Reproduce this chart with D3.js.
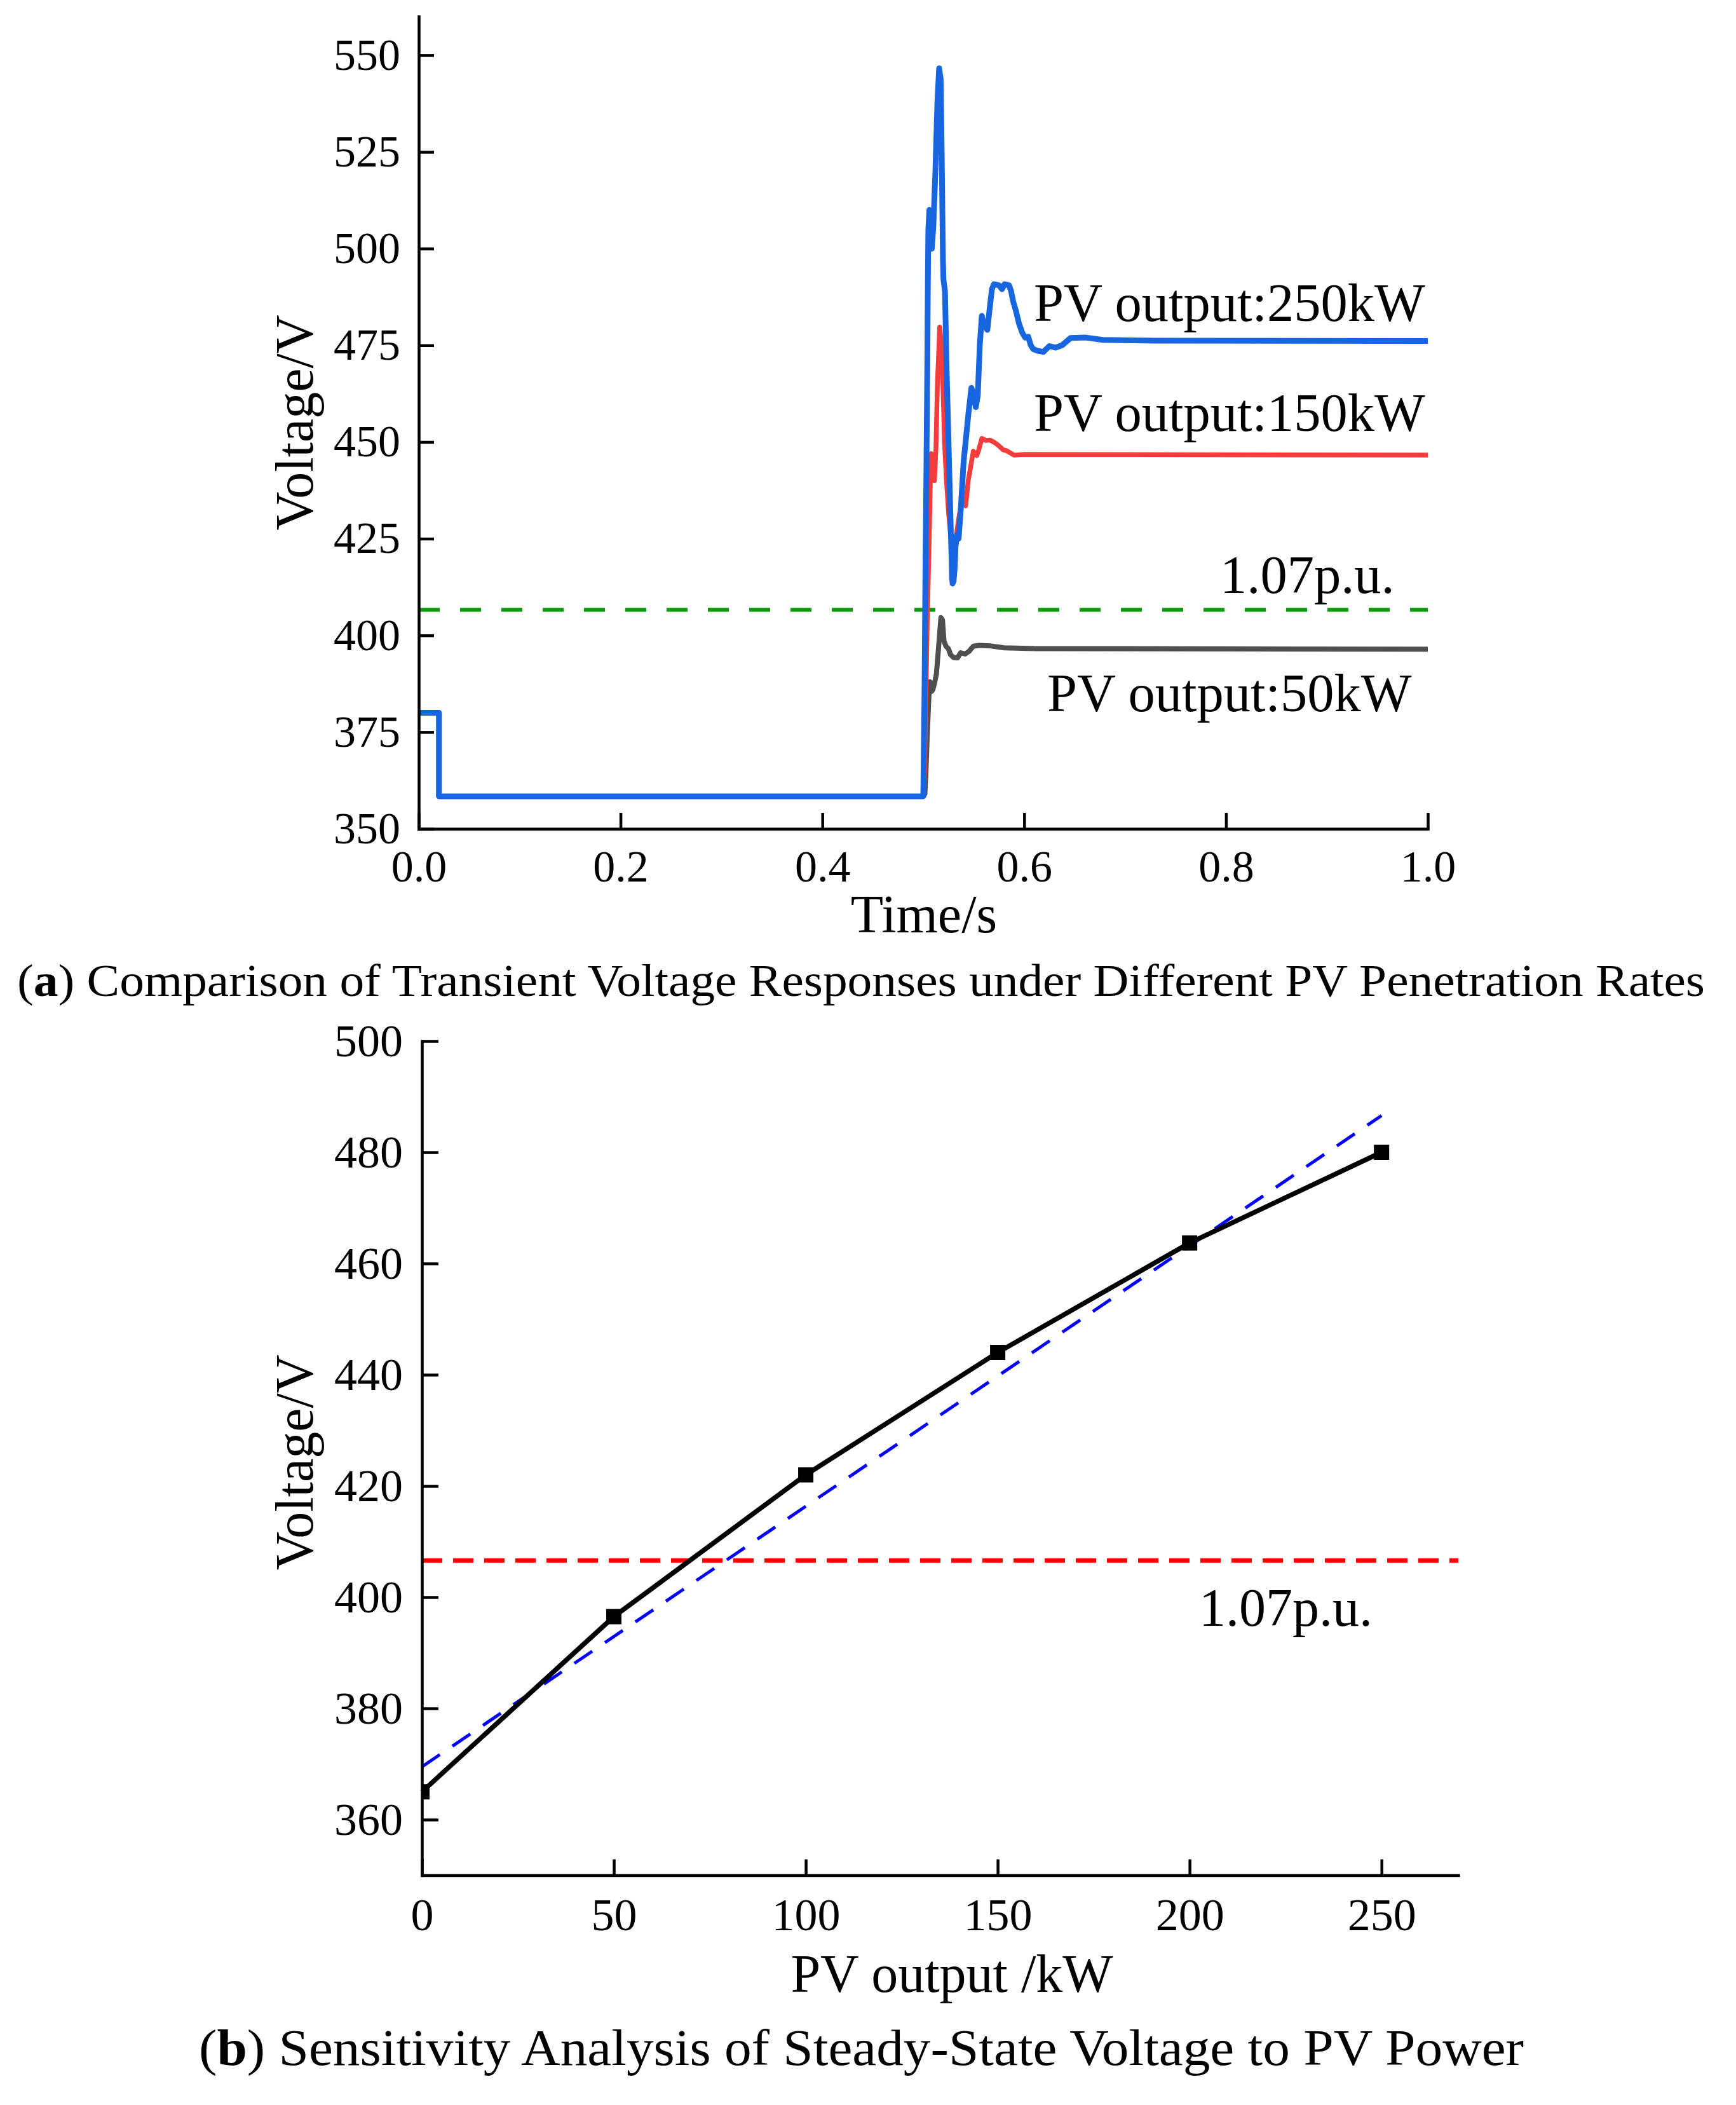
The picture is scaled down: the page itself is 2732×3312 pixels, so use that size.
<!DOCTYPE html>
<html>
<head>
<meta charset="utf-8">
<script src="https://cdn.jsdelivr.net/npm/d3@7"></script>
<style>
	body { margin: 0; background: #fff; }
	svg { display: block; }
	text { font-family: "Liberation Serif", "Times New Roman", serif; fill: #000; }
</style>
</head>
<body>
<div class="container"></div>
<script>
"use strict";

// (a) transient voltage, [time s, voltage V]
const pv250 = [
	[0, 380], [0.02, 380], [0.02, 358.4], [0.5, 358.4], [0.5012, 385], [0.502, 412], [0.503, 440],
	[0.504, 470], [0.5045, 490], [0.505, 505], [0.506, 510], [0.507, 509], [0.5085, 500], [0.51, 506],
	[0.512, 520], [0.514, 538], [0.5157, 546.6], [0.5172, 544], [0.518, 530], [0.519, 508], [0.5195, 497],
	[0.52, 492], [0.5215, 489], [0.523, 470], [0.525, 450], [0.527, 430], [0.5285, 415], [0.529, 413.4],
	[0.53, 414], [0.531, 417], [0.532, 423], [0.5335, 426], [0.535, 425], [0.537, 432], [0.54, 445],
	[0.545, 458], [0.5477, 464], [0.55, 462], [0.552, 459], [0.554, 462], [0.556, 475], [0.558, 482.6],
	[0.5605, 480], [0.5635, 479], [0.566, 485], [0.568, 489.5], [0.57, 490.8], [0.575, 490.5],
	[0.578, 489.5], [0.5805, 490.8], [0.585, 490.5], [0.587, 489], [0.589, 486.4], [0.5917, 484],
	[0.595, 480.5], [0.598, 478.3], [0.601, 477], [0.604, 477.2], [0.6065, 475], [0.609, 474],
	[0.613, 473.6], [0.619, 473.3], [0.625, 474.8], [0.631, 474.4], [0.6375, 475], [0.646, 476.9],
	[0.661, 477], [0.678, 476.4], [0.73, 476.2], [1.0, 476.1]
]
const pv150 = [
	[0, 380], [0.02, 380], [0.02, 358.4], [0.5, 358.4], [0.5015, 365], [0.5025, 383], [0.504, 405],
	[0.5057, 423], [0.507, 440], [0.508, 447], [0.5095, 446], [0.511, 440], [0.5125, 448], [0.514, 465],
	[0.5163, 479.7], [0.518, 475], [0.5195, 465], [0.521, 450], [0.523, 440], [0.525, 432], [0.527, 426],
	[0.5295, 424], [0.532, 424.5], [0.535, 430], [0.538, 434.5], [0.54, 435], [0.542, 433.5],
	[0.5445, 440], [0.5496, 447.6], [0.553, 446.5], [0.555, 448], [0.558, 450.9], [0.562, 450.4],
	[0.566, 450.5], [0.571, 449.8], [0.575, 449], [0.579, 448], [0.583, 447.7], [0.59, 446.6],
	[0.6, 446.8], [1.0, 446.6]
]
const pv50 = [
	[0, 380], [0.02, 380], [0.02, 358.4], [0.5, 358.4], [0.5015, 359], [0.5025, 363.8], [0.504, 375],
	[0.5057, 385], [0.5065, 388], [0.508, 385.5], [0.5095, 386], [0.511, 387.5], [0.513, 390],
	[0.5155, 398], [0.5175, 404.6], [0.519, 404], [0.5205, 398.5], [0.5225, 397.2], [0.525, 396.5],
	[0.527, 395], [0.53, 394.3], [0.534, 394.2], [0.537, 395.5], [0.5415, 395.2], [0.545, 395.8],
	[0.5496, 397.2], [0.555, 397.4], [0.566, 397.3], [0.58, 396.8], [0.61, 396.6], [1.0, 396.4]
]
const timeTicks = [0, 0.2, 0.4, 0.6, 0.8, 1.0]
const voltTicksA = [350, 375, 400, 425, 450, 475, 500, 525, 550]

// (b) steady-state voltage vs PV power
const pvPower = [0, 50, 100, 150, 200, 250]
const steadyVolt = [365, 396.5, 422, 444, 463.7, 480]
const fitPower = [0, 250]
const fitVolt = [369.5, 486.6]
const powerTicks = [0, 50, 100, 150, 200, 250]
const voltTicksB = [360, 380, 400, 420, 440, 460, 480, 500]

const limitVolt = 406.6 // 1.07 p.u. of 380 V

const W = 2732, H = 3312

const svg = d3.select('.container')
	.append('svg')
	.attr('width', W)
	.attr('height', H)
	.style('background', '#fff')

function styleAxis(g, fontSize) {
	g.select('.domain').attr('stroke', '#000').attr('stroke-width', 4.5).attr('stroke-linecap', 'square')
	g.selectAll('.tick line').attr('stroke', '#000').attr('stroke-width', 4.5)
	g.selectAll('.tick text')
		.attr('font-family', '"Liberation Serif", "Times New Roman", serif')
		.attr('font-size', fontSize)
		.attr('fill', '#000')
}

//---------------- chart (a)
const xa = d3.scaleLinear().domain([0, 1]).range([659, 2247])
const ya = d3.scaleLinear().domain([350, 560]).range([1304, 26])

const lineA = d3.line().x(d => xa(d[0])).y(d => ya(d[1]))

// threshold
svg.append('line')
	.attr('x1', xa(0)).attr('x2', xa(1))
	.attr('y1', ya(limitVolt)).attr('y2', ya(limitVolt))
	.attr('stroke', '#0a9a0a')
	.attr('stroke-width', 6)
	.attr('stroke-dasharray', '33,32')

const seriesA = [
	{ data: pv50, color: '#4f4f4f', w: 8 },
	{ data: pv150, color: '#f53c3c', w: 7.5 },
	{ data: pv250, color: '#1766e0', w: 9 }
]
seriesA.forEach(s => {
	svg.append('path')
		.attr('d', lineA(s.data))
		.attr('fill', 'none')
		.attr('stroke', s.color)
		.attr('stroke-width', s.w)
		.attr('stroke-linejoin', 'round')
})

const gxa = svg.append('g')
	.attr('transform', `translate(0,${ya(350)})`)
	.call(d3.axisBottom(xa).tickValues(timeTicks).tickFormat(d3.format('.1f'))
		.tickSizeInner(-25).tickSizeOuter(0).tickPadding(33))
styleAxis(gxa, 70)

const gya = svg.append('g')
	.attr('transform', `translate(${xa(0)},0)`)
	.call(d3.axisLeft(ya).tickValues(voltTicksA).tickSizeInner(-24).tickSizeOuter(0).tickPadding(29))
styleAxis(gya, 70)

svg.append('text')
	.attr('x', 1454).attr('y', 1467)
	.attr('text-anchor', 'middle')
	.attr('font-size', 84)
	.text('Time/s')

svg.append('text')
	.attr('transform', `translate(492,${(ya(350) + ya(560)) / 2}) rotate(-90)`)
	.attr('text-anchor', 'middle')
	.attr('font-size', 84)
	.text('Voltage/V')

const labelsA = [
	{ t: 'PV output:250kW', x: 1627, y: 505 },
	{ t: 'PV output:150kW', x: 1627, y: 678 },
	{ t: '1.07p.u.', x: 1920, y: 933 },
	{ t: 'PV output:50kW', x: 1648, y: 1119 }
]
labelsA.forEach(l => {
	svg.append('text').attr('x', l.x).attr('y', l.y).attr('font-size', 84.5).text(l.t)
})

const capA = svg.append('text')
	.attr('x', 27).attr('y', 1567)
	.attr('font-size', 72)
	.attr('textLength', 2656)
	.attr('lengthAdjust', 'spacingAndGlyphs')
capA.append('tspan').text('(')
capA.append('tspan').attr('font-weight', 'bold').text('a')
capA.append('tspan').text(') Comparison of Transient Voltage Responses under Different PV Penetration Rates')

//---------------- chart (b)
const xb = d3.scaleLinear().domain([0, 270]).range([664, 2295])
const yb = d3.scaleLinear().domain([350, 500]).range([2950.5, 1638])

svg.append('defs').append('clipPath').attr('id', 'clipB')
	.append('rect')
	.attr('x', xb(0)).attr('y', yb(500) - 30)
	.attr('width', xb(270) - xb(0)).attr('height', yb(350) - yb(500) + 30)

svg.append('line')
	.attr('x1', xb(0)).attr('x2', xb(270))
	.attr('y1', yb(limitVolt)).attr('y2', yb(limitVolt))
	.attr('stroke', '#ff0000')
	.attr('stroke-width', 7)
	.attr('stroke-dasharray', '32,17')

const lineB = d3.line().x(d => xb(d[0])).y(d => yb(d[1]))

svg.append('path')
	.attr('d', lineB(fitPower.map((p, i) => [p, fitVolt[i]])))
	.attr('fill', 'none')
	.attr('stroke', '#0000ff')
	.attr('stroke-width', 5)
	.attr('stroke-dasharray', '34,24')

const pts = pvPower.map((p, i) => [p, steadyVolt[i]])
svg.append('path')
	.attr('d', lineB(pts))
	.attr('fill', 'none')
	.attr('stroke', '#000')
	.attr('stroke-width', 7.5)
	.attr('stroke-linejoin', 'round')

svg.append('g').attr('clip-path', 'url(#clipB)')
	.selectAll('rect')
	.data(pts)
	.join('rect')
	.attr('x', d => xb(d[0]) - 12)
	.attr('y', d => yb(d[1]) - 12)
	.attr('width', 24)
	.attr('height', 24)
	.attr('fill', '#000')

const gxb = svg.append('g')
	.attr('transform', `translate(0,${yb(350)})`)
	.call(d3.axisBottom(xb).tickValues(powerTicks).tickSizeInner(-25).tickSizeOuter(0).tickPadding(35))
styleAxis(gxb, 72)

const gyb = svg.append('g')
	.attr('transform', `translate(${xb(0)},0)`)
	.call(d3.axisLeft(yb).tickValues(voltTicksB).tickSizeInner(-26).tickSizeOuter(0).tickPadding(30))
styleAxis(gyb, 72)

svg.append('text')
	.attr('x', 1498).attr('y', 3134)
	.attr('text-anchor', 'middle')
	.attr('font-size', 84)
	.text('PV output /kW')

svg.append('text')
	.attr('transform', `translate(492,2301) rotate(-90)`)
	.attr('text-anchor', 'middle')
	.attr('font-size', 84)
	.text('Voltage/V')

svg.append('text')
	.attr('x', 1887).attr('y', 2558)
	.attr('font-size', 84)
	.text('1.07p.u.')

const capB = svg.append('text')
	.attr('x', 313).attr('y', 3249)
	.attr('font-size', 80)
	.attr('textLength', 2085)
	.attr('lengthAdjust', 'spacingAndGlyphs')
capB.append('tspan').text('(')
capB.append('tspan').attr('font-weight', 'bold').text('b')
capB.append('tspan').text(') Sensitivity Analysis of Steady-State Voltage to PV Power')
</script>
</body>
</html>
